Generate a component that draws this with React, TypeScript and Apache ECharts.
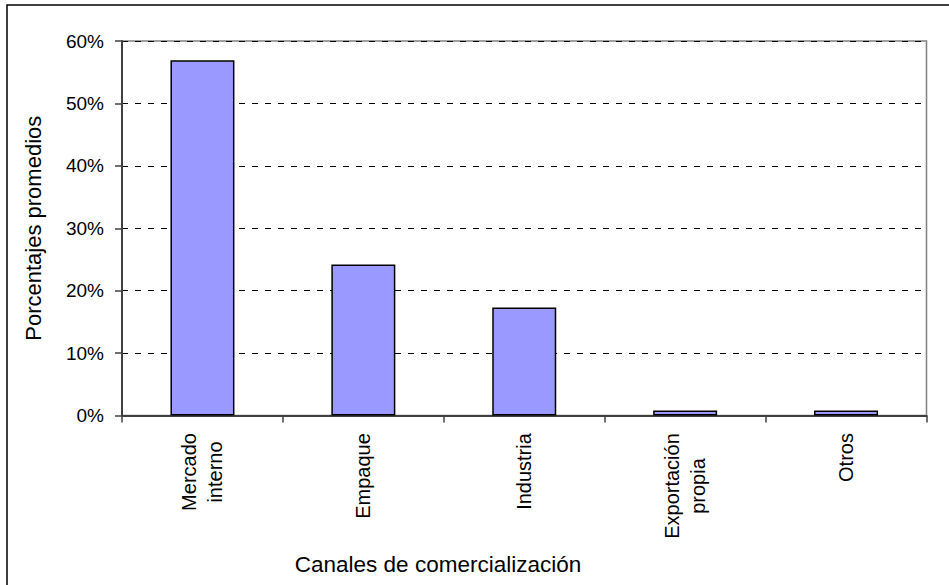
import React, { useEffect, useRef } from "react";
import * as echarts from "echarts";

const categories = ["Mercado\ninterno", "Empaque", "Industria", "Exportación\npropia", "Otros"];
const values = [56.9, 24.2, 17.3, 0.8, 0.8];
const yTicks = [0, 10, 20, 30, 40, 50, 60];
const yAxisTitle = "Porcentajes promedios";
const xAxisTitle = "Canales de comercialización";

const FONT = "'Liberation Sans', Arial, sans-serif";
const XLABEL_SIZE = 20;

function measure(text: string): number {
  const c = document.createElement("canvas").getContext("2d");
  if (!c) return text.length * XLABEL_SIZE * 0.55;
  c.font = `${XLABEL_SIZE}px 'Liberation Sans', Arial, sans-serif`;
  return c.measureText(text).width;
}

export default function App() {
  const ref = useRef<HTMLDivElement>(null);
  useEffect(() => {
    document.body.style.margin = "0";
    const chart = echarts.init(ref.current!, null, { renderer: "svg" });
    const rich: Record<string, any> = {};
    categories.forEach((cat, i) => {
      const w = Math.max(...cat.split("\n").map(measure));
      rich["c" + i] = {
        width: Math.ceil(w) + 1,
        align: "center",
        fontSize: XLABEL_SIZE,
        fontFamily: FONT,
        color: "#000",
        lineHeight: 26,
      };
    });
    chart.setOption({
      animation: false,
      backgroundColor: "#ffffff",
      textStyle: { fontFamily: FONT },
      grid: {
        left: 122,
        top: 41,
        right: 22.5,
        bottom: 169.5,
        show: true,
        borderColor: "#808080",
        borderWidth: 1.5,
        backgroundColor: "transparent",
      },
      xAxis: {
        type: "category",
        data: categories,
        boundaryGap: true,
        axisLine: { show: true, lineStyle: { color: "#404040", width: 2 } },
        axisTick: { show: true, inside: false, length: 7, lineStyle: { color: "#404040", width: 1.5 } },
        axisLabel: {
          rotate: 90,
          margin: 17,
          color: "#000",
          fontSize: XLABEL_SIZE,
          fontFamily: FONT,
          lineHeight: 26,
          align: "right",
          verticalAlign: "middle",
          formatter: (v: string, i: number) =>
            v.split("\n").map((l) => `{c${i}|${l}}`).join("\n"),
          rich,
        },
      },
      yAxis: {
        type: "value",
        min: yTicks[0],
        max: yTicks[yTicks.length - 1],
        interval: 10,
        name: yAxisTitle,
        nameLocation: "middle",
        nameGap: 78,
        nameRotate: 90,
        nameTextStyle: { fontSize: 22, color: "#000", fontFamily: FONT },
        axisLine: { show: true, lineStyle: { color: "#404040", width: 2 } },
        axisTick: { show: true, inside: false, length: 7, lineStyle: { color: "#404040", width: 1.5 } },
        axisLabel: {
          formatter: "{value}%",
          color: "#000",
          fontSize: 19,
          fontFamily: FONT,
          margin: 18,
        },
        splitLine: {
          show: true,
          lineStyle: { color: "#000", type: [6, 7], width: 1 },
        },
      },
      graphic: [
        {
          type: "rect",
          shape: { x: 7, y: 5, width: 1200, height: 1200 },
          style: { fill: "none", stroke: "#000", lineWidth: 1.5 },
          silent: true,
        },
        {
          type: "text",
          x: 438,
          y: 564,
          style: {
            text: xAxisTitle,
            fontSize: 22.5,
            fontFamily: FONT,
            fill: "#000",
            align: "center",
            verticalAlign: "middle",
          },
        },
      ],
      series: [
        {
          type: "bar",
          data: values,
          barWidth: 64,
          itemStyle: { color: "#9999FF", borderColor: "#000", borderWidth: 1.5 },
        },
      ],
    });
    return () => chart.dispose();
  }, []);
  return <div ref={ref} style={{ width: 949, height: 585, position: "fixed", left: 0, top: 0 }} />;
}
